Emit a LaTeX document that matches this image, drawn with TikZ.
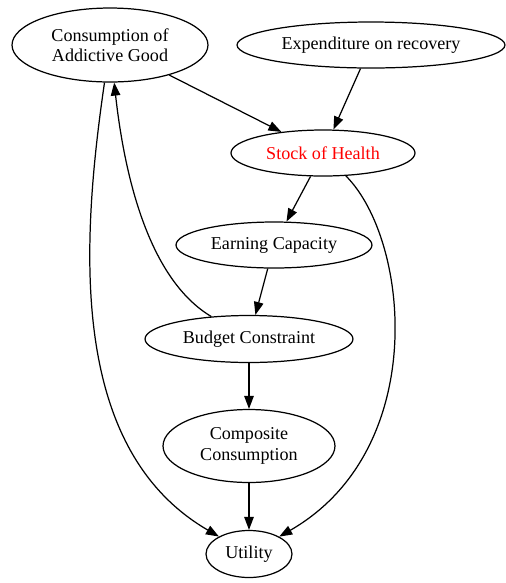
\documentclass[tikz,border=0pt]{standalone}
\usepackage{fontspec}
\setmainfont{Liberation Serif}
\usetikzlibrary{shapes.geometric, arrows.meta}

\begin{document}
\begin{tikzpicture}[
    x=0.02cm, y=-0.02cm,
    state/.style={draw, ellipse, inner sep=0pt, align=center, line width=0.7pt, font=\fontsize{10.3}{11.5}\selectfont}, % every ellipse
    link/.style={-{Triangle[length=2.6mm, width=1.9mm]}, line width=0.7pt}
    ]
\useasboundingbox (0,0) rectangle (506,583);
\node[state, minimum width=3.92cm, minimum height=1.48cm] (addict) at (110,45) {Consumption of\\Addictive Good};
\node[state, minimum width=5.36cm, minimum height=0.92cm] (recov) at (371,45) {Expenditure on recovery};
\node[state, minimum width=3.68cm, minimum height=0.92cm, text=red] (health) at (323,153) {Stock of Health};
\node[state, minimum width=3.92cm, minimum height=0.92cm] (earn) at (274,245) {Earning Capacity};
\node[state, minimum width=4.16cm, minimum height=0.94cm] (budget) at (249,339) {Budget Constraint};
\node[state, minimum width=3.44cm, minimum height=1.46cm] (comp) at (249,446) {Composite\\Consumption};
\node[state, minimum width=1.72cm, minimum height=0.94cm] (util) at (249,554) {Utility};

\draw[link] (addict) -- (health);
\draw[link] (recov) -- (health);
\draw[link] (health) -- (earn);
\draw[link] (earn) -- (budget);
\draw[link] (budget) -- (comp);
\draw[link] (comp) -- (util);
\draw[link] (budget) .. controls (150,280) and (125,180) .. (addict);
\draw[link] (addict) .. controls (80,250) and (70,450) .. (util);
\draw[link] (health) .. controls (410,240) and (430,450) .. (util);
\end{tikzpicture}
\end{document}
